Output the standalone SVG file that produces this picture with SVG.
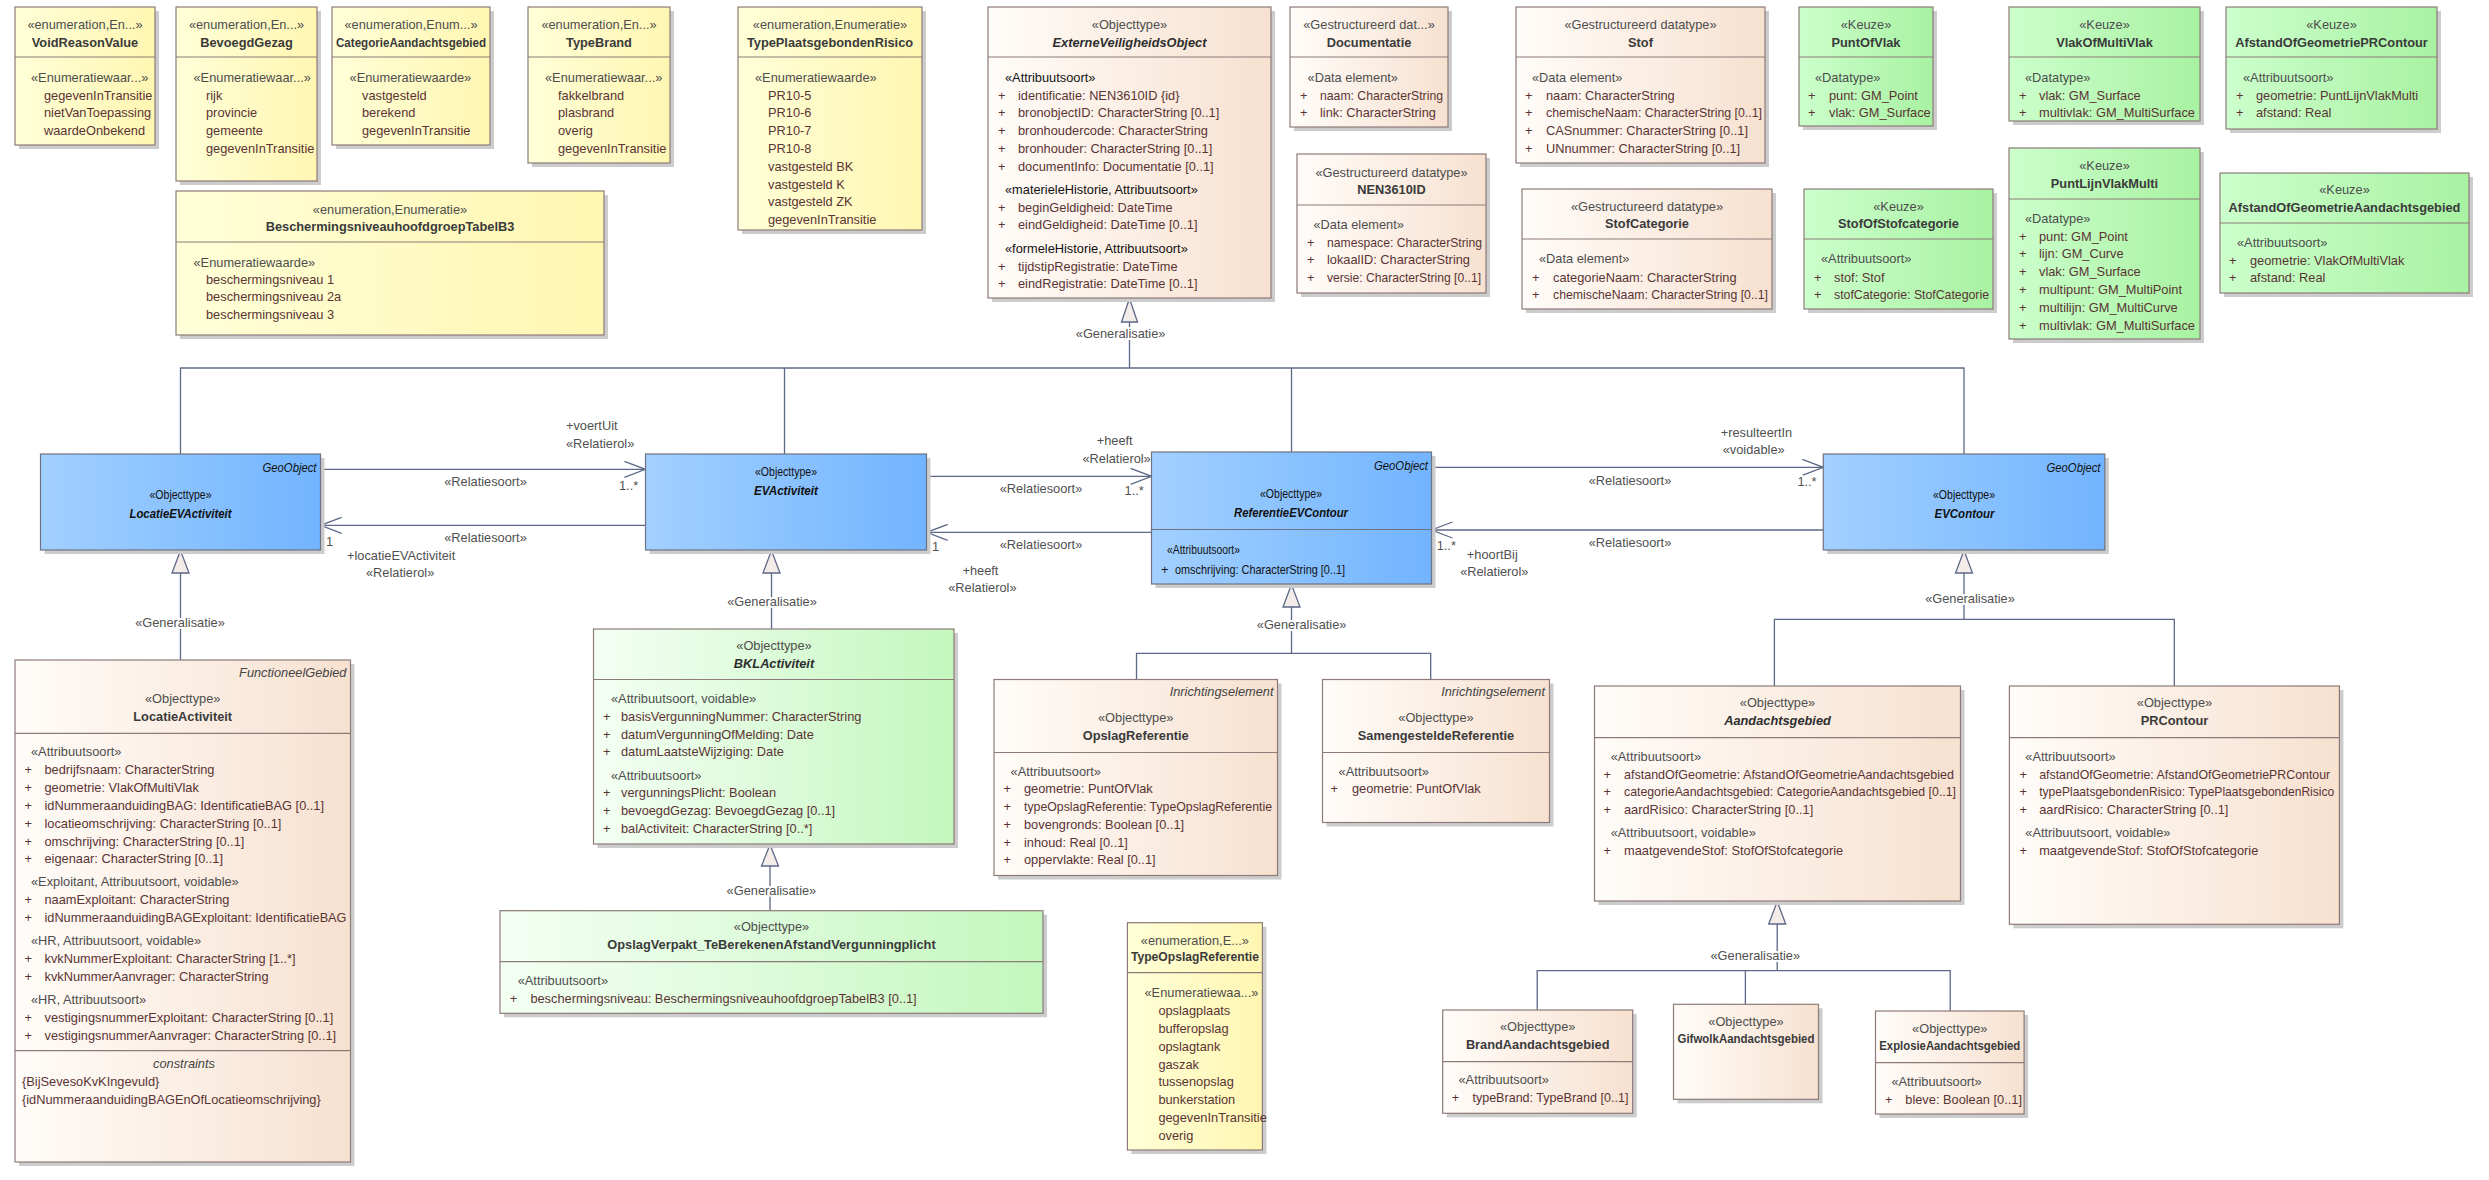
<svg xmlns="http://www.w3.org/2000/svg" width="2489" height="1180" viewBox="0 0 2489 1180">
<defs>
<linearGradient id="gY" x1="0" y1="0" x2="1" y2="0"><stop offset="0" stop-color="#FFFFD8"/><stop offset="1" stop-color="#FFF6B2"/></linearGradient>
<linearGradient id="gP" x1="0" y1="0" x2="1" y2="0"><stop offset="0" stop-color="#FFFCF9"/><stop offset="1" stop-color="#F7E1D0"/></linearGradient>
<linearGradient id="gG" x1="0" y1="0" x2="1" y2="0"><stop offset="0" stop-color="#CCFFCC"/><stop offset="1" stop-color="#A8F2A2"/></linearGradient>
<linearGradient id="gL" x1="0" y1="0" x2="1" y2="0"><stop offset="0" stop-color="#F4FFF4"/><stop offset="1" stop-color="#C4F7BE"/></linearGradient>
<linearGradient id="gB" x1="0" y1="0" x2="1" y2="0"><stop offset="0" stop-color="#A2D0FF"/><stop offset="1" stop-color="#72B4FF"/></linearGradient>
</defs>
<style>
text{font-family:"Liberation Sans",Arial,sans-serif;font-size:12.8px}
.sh{fill:#cccccc}
.bx{stroke:#8c7b78;stroke-width:1.2}
.bb{stroke:#6f7282;stroke-width:1.2}
.dv{stroke:#8c7b78;stroke-width:1.2}
.y{fill:url(#gY)}.p{fill:url(#gP)}.g{fill:url(#gG)}.l{fill:url(#gL)}.b{fill:url(#gB)}
.c{text-anchor:middle}
.st{fill:#4d4d4d}
.nm{fill:#3a3a3a;font-weight:bold}
.ni{fill:#2e2e2e;font-weight:bold;font-style:italic}
.a{fill:#5a3434}
.k{fill:#111111}
.tg{font-style:italic;fill:#444;text-anchor:end}
.ln{stroke:#5d6888;stroke-width:1.3;fill:none}
.tri{fill:#f3ece8;stroke:#5d6888;stroke-width:1.3}
.lb{fill:#505050;stroke:#ffffff;stroke-width:4;paint-order:stroke;stroke-linejoin:round}
</style>
<rect x="0" y="0" width="2489" height="1180" fill="#ffffff"/>

<g id="connectors">
<path class="ln" d="M180.5,454 V368 H1964 V454 M784.5,368 V454 M1129.5,368 V322 M1291.5,368 V452"/>
<polygon class="tri" points="1129.5,298.5 1121.5,322 1137.5,322"/>
<path class="ln" d="M180.5,573 V660"/>
<polygon class="tri" points="180.5,550.5 172,573 189,573"/>
<path class="ln" d="M771.5,573 V629"/>
<polygon class="tri" points="771.5,550.5 763,573 780,573"/>
<path class="ln" d="M770,866 V910.7"/>
<polygon class="tri" points="770,844.5 761.5,866 778.5,866"/>
<path class="ln" d="M1291.5,607 V653.3 M1136.5,679.5 V653.3 H1430.7 V679.5"/>
<polygon class="tri" points="1291.5,584.5 1283,607 1300,607"/>
<path class="ln" d="M1964,573 V619.3 M1774.4,686 V619.3 H2174.3 V686"/>
<polygon class="tri" points="1964,550.5 1955.5,573 1972.5,573"/>
<path class="ln" d="M1777.2,924 V970.7 M1537.2,1010 V970.7 H1950.2 V1011 M1745.4,970.7 V1004.3"/>
<polygon class="tri" points="1777.2,901.5 1768.7,924 1785.7,924"/>
<path class="ln" d="M320.6,469.3 H645.4 M645.4,525.3 H320.6 M926.7,476.3 H1151.6 M1151.6,532.3 H926.7 M1431.5,467.3 H1823.3 M1823.3,530 H1431.5"/>
<polyline class="ln" points="624.4,461.3 645.4,469.3 624.4,477.3"/>
<polyline class="ln" points="341.6,517.3 320.6,525.3 341.6,533.3"/>
<polyline class="ln" points="1130.6,468.3 1151.6,476.3 1130.6,484.3"/>
<polyline class="ln" points="947.7,524.3 926.7,532.3 947.7,540.3"/>
<polyline class="ln" points="1802.3,459.3 1823.3,467.3 1802.3,475.3"/>
<polyline class="ln" points="1452.5,522 1431.5,530 1452.5,538"/>
<text class="lb c" x="1120.6" y="337.5">«Generalisatie»</text>
<text class="lb c" x="180" y="626.8">«Generalisatie»</text>
<text class="lb c" x="772" y="605.8">«Generalisatie»</text>
<text class="lb c" x="771.4" y="895.2">«Generalisatie»</text>
<text class="lb c" x="1301.6" y="629.2">«Generalisatie»</text>
<text class="lb c" x="1970" y="603.2">«Generalisatie»</text>
<text class="lb c" x="1755.3" y="959.8">«Generalisatie»</text>
<text class="lb c" x="485.5" y="486.2">«Relatiesoort»</text>
<text class="lb" x="566" y="430.2">+voertUit</text>
<text class="lb" x="566" y="447.8">«Relatierol»</text>
<text class="lb" x="619" y="489.5">1..*</text>
<text class="lb c" x="485.5" y="541.8">«Relatiesoort»</text>
<text class="lb" x="326" y="545.5">1</text>
<text class="lb" x="347" y="560.2">+locatieEVActiviteit</text>
<text class="lb" x="366" y="577.2">«Relatierol»</text>
<text class="lb c" x="1041" y="493.2">«Relatiesoort»</text>
<text class="lb c" x="1114.7" y="445.2">+heeft</text>
<text class="lb c" x="1116.6" y="462.8">«Relatierol»</text>
<text class="lb" x="1124.6" y="494.5">1..*</text>
<text class="lb c" x="1041" y="548.8">«Relatiesoort»</text>
<text class="lb" x="932" y="551">1</text>
<text class="lb c" x="980.4" y="574.8">+heeft</text>
<text class="lb c" x="982.4" y="592.2">«Relatierol»</text>
<text class="lb c" x="1630" y="485.2">«Relatiesoort»</text>
<text class="lb c" x="1756.5" y="437.2">+resulteertIn</text>
<text class="lb c" x="1753.7" y="453.8">«voidable»</text>
<text class="lb" x="1797.4" y="486">1..*</text>
<text class="lb c" x="1630" y="547.2">«Relatiesoort»</text>
<text class="lb" x="1436.7" y="549.5">1..*</text>
<text class="lb c" x="1492.3" y="558.5">+hoortBij</text>
<text class="lb c" x="1494.3" y="576.2">«Relatierol»</text>
</g>

<g id="VoidReasonValue">
<rect class="sh" x="19" y="11" width="140" height="138"/>
<rect class="bx y" x="15" y="7" width="140" height="138"/>
<line class="dv" x1="15" y1="57" x2="155" y2="57"/>
<text class="st c" x="85" y="28.5">«enumeration,En...»</text>
<text class="nm c" x="85" y="46.5">VoidReasonValue</text>
<text class="st" x="31" y="81.5">«Enumeratiewaar...»</text>
<text class="a" x="44" y="99.5">gegevenInTransitie</text>
<text class="a" x="44" y="117.3">nietVanToepassing</text>
<text class="a" x="44" y="135.1">waardeOnbekend</text>
</g>

<g id="BevoegdGezag">
<rect class="sh" x="180" y="11" width="141" height="174"/>
<rect class="bx y" x="176" y="7" width="141" height="174"/>
<line class="dv" x1="176" y1="57" x2="317" y2="57"/>
<text class="st c" x="246.5" y="28.5">«enumeration,En...»</text>
<text class="nm c" x="246.5" y="46.5">BevoegdGezag</text>
<text class="st" x="193.5" y="81.5">«Enumeratiewaar...»</text>
<text class="a" x="206" y="99.5">rijk</text>
<text class="a" x="206" y="117.3">provincie</text>
<text class="a" x="206" y="135.1">gemeente</text>
<text class="a" x="206" y="152.9">gegevenInTransitie</text>
</g>

<g id="CategorieAandachtsgebied">
<rect class="sh" x="336" y="11" width="158" height="138"/>
<rect class="bx y" x="332" y="7" width="158" height="138"/>
<line class="dv" x1="332" y1="57" x2="490" y2="57"/>
<text class="st c" x="411" y="28.5">«enumeration,Enum...»</text>
<text class="nm c" x="411" y="46.5" textLength="150" lengthAdjust="spacingAndGlyphs">CategorieAandachtsgebied</text>
<text class="st" x="349.6" y="81.5">«Enumeratiewaarde»</text>
<text class="a" x="362" y="99.5">vastgesteld</text>
<text class="a" x="362" y="117.3">berekend</text>
<text class="a" x="362" y="135.1">gegevenInTransitie</text>
</g>

<g id="TypeBrand">
<rect class="sh" x="532" y="11" width="142" height="156"/>
<rect class="bx y" x="528" y="7" width="142" height="156"/>
<line class="dv" x1="528" y1="57" x2="670" y2="57"/>
<text class="st c" x="599" y="28.5">«enumeration,En...»</text>
<text class="nm c" x="599" y="46.5">TypeBrand</text>
<text class="st" x="545" y="81.5">«Enumeratiewaar...»</text>
<text class="a" x="558" y="99.5">fakkelbrand</text>
<text class="a" x="558" y="117.3">plasbrand</text>
<text class="a" x="558" y="135.1">overig</text>
<text class="a" x="558" y="152.9">gegevenInTransitie</text>
</g>

<g id="BeschermingsniveauhoofdgroepTabelB3">
<rect class="sh" x="180" y="195" width="428" height="144"/>
<rect class="bx y" x="176" y="191" width="428" height="144"/>
<line class="dv" x1="176" y1="242" x2="604" y2="242"/>
<text class="st c" x="390" y="213.5">«enumeration,Enumeratie»</text>
<text class="nm c" x="390" y="230.5">BeschermingsniveauhoofdgroepTabelB3</text>
<text class="st" x="193.5" y="266.5">«Enumeratiewaarde»</text>
<text class="a" x="206" y="283.5">beschermingsniveau 1</text>
<text class="a" x="206" y="301.3">beschermingsniveau 2a</text>
<text class="a" x="206" y="319.1">beschermingsniveau 3</text>
</g>

<g id="TypePlaatsgebondenRisico">
<rect class="sh" x="742" y="11" width="184" height="223"/>
<rect class="bx y" x="738" y="7" width="184" height="223"/>
<line class="dv" x1="738" y1="57" x2="922" y2="57"/>
<text class="st c" x="830" y="28.5">«enumeration,Enumeratie»</text>
<text class="nm c" x="830" y="46.5">TypePlaatsgebondenRisico</text>
<text class="st" x="755" y="81.5">«Enumeratiewaarde»</text>
<text class="a" x="768" y="99.5">PR10-5</text>
<text class="a" x="768" y="117.3">PR10-6</text>
<text class="a" x="768" y="135.1">PR10-7</text>
<text class="a" x="768" y="152.9">PR10-8</text>
<text class="a" x="768" y="170.7">vastgesteld BK</text>
<text class="a" x="768" y="188.5">vastgesteld K</text>
<text class="a" x="768" y="206.3">vastgesteld ZK</text>
<text class="a" x="768" y="224.1">gegevenInTransitie</text>
</g>

<g id="ExterneVeiligheidsObject">
<rect class="sh" x="992" y="11" width="283" height="291"/>
<rect class="bx p" x="988" y="7" width="283" height="291"/>
<line class="dv" x1="988" y1="57" x2="1271" y2="57"/>
<text class="st c" x="1129.5" y="28.5">«Objecttype»</text>
<text class="ni c" x="1129.5" y="46.5">ExterneVeiligheidsObject</text>
<text class="k" x="1005" y="81.5">«Attribuutsoort»</text>
<text class="a"><tspan x="998" y="99.5">+</tspan><tspan x="1018">identificatie: NEN3610ID {id}</tspan></text>
<text class="a"><tspan x="998" y="117.3">+</tspan><tspan x="1018">bronobjectID: CharacterString [0..1]</tspan></text>
<text class="a"><tspan x="998" y="135.1">+</tspan><tspan x="1018">bronhoudercode: CharacterString</tspan></text>
<text class="a"><tspan x="998" y="152.9">+</tspan><tspan x="1018">bronhouder: CharacterString [0..1]</tspan></text>
<text class="a"><tspan x="998" y="170.7">+</tspan><tspan x="1018">documentInfo: Documentatie [0..1]</tspan></text>
<text class="k" x="1005" y="193.5">«materieleHistorie, Attribuutsoort»</text>
<text class="a"><tspan x="998" y="211.5">+</tspan><tspan x="1018">beginGeldigheid: DateTime</tspan></text>
<text class="a"><tspan x="998" y="229.3">+</tspan><tspan x="1018">eindGeldigheid: DateTime [0..1]</tspan></text>
<text class="k" x="1005" y="252.5">«formeleHistorie, Attribuutsoort»</text>
<text class="a"><tspan x="998" y="270.5">+</tspan><tspan x="1018">tijdstipRegistratie: DateTime</tspan></text>
<text class="a"><tspan x="998" y="288.3">+</tspan><tspan x="1018">eindRegistratie: DateTime [0..1]</tspan></text>
</g>

<g id="Documentatie">
<rect class="sh" x="1294" y="11" width="158" height="120"/>
<rect class="bx p" x="1290" y="7" width="158" height="120"/>
<line class="dv" x1="1290" y1="57" x2="1448" y2="57"/>
<text class="st c" x="1369" y="28.5">«Gestructureerd dat...»</text>
<text class="nm c" x="1369" y="46.5">Documentatie</text>
<text class="st" x="1307.6" y="81.5">«Data element»</text>
<text class="a"><tspan x="1300" y="99.5">+</tspan><tspan x="1320" textLength="123" lengthAdjust="spacingAndGlyphs">naam: CharacterString</tspan></text>
<text class="a"><tspan x="1300" y="117.3">+</tspan><tspan x="1320">link: CharacterString</tspan></text>
</g>

<g id="NEN3610ID">
<rect class="sh" x="1301" y="158" width="189" height="139"/>
<rect class="bx p" x="1297" y="154" width="189" height="139"/>
<line class="dv" x1="1297" y1="205" x2="1486" y2="205"/>
<text class="st c" x="1391.5" y="176.5">«Gestructureerd datatype»</text>
<text class="nm c" x="1391.5" y="193.5">NEN3610ID</text>
<text class="st" x="1313.5" y="228.5">«Data element»</text>
<text class="a"><tspan x="1307" y="246.5">+</tspan><tspan x="1327" textLength="155" lengthAdjust="spacingAndGlyphs">namespace: CharacterString</tspan></text>
<text class="a"><tspan x="1307" y="264.3">+</tspan><tspan x="1327">lokaalID: CharacterString</tspan></text>
<text class="a"><tspan x="1307" y="282.1">+</tspan><tspan x="1327" textLength="154" lengthAdjust="spacingAndGlyphs">versie: CharacterString [0..1]</tspan></text>
</g>

<g id="Stof">
<rect class="sh" x="1520" y="11" width="249" height="156"/>
<rect class="bx p" x="1516" y="7" width="249" height="156"/>
<line class="dv" x1="1516" y1="57" x2="1765" y2="57"/>
<text class="st c" x="1640.5" y="28.5">«Gestructureerd datatype»</text>
<text class="nm c" x="1640.5" y="46.5">Stof</text>
<text class="st" x="1532" y="81.5">«Data element»</text>
<text class="a"><tspan x="1525" y="99.5">+</tspan><tspan x="1546">naam: CharacterString</tspan></text>
<text class="a"><tspan x="1525" y="117.3">+</tspan><tspan x="1546" textLength="216" lengthAdjust="spacingAndGlyphs">chemischeNaam: CharacterString [0..1]</tspan></text>
<text class="a"><tspan x="1525" y="135.1">+</tspan><tspan x="1546">CASnummer: CharacterString [0..1]</tspan></text>
<text class="a"><tspan x="1525" y="152.9">+</tspan><tspan x="1546">UNnummer: CharacterString [0..1]</tspan></text>
</g>

<g id="StofCategorie">
<rect class="sh" x="1526" y="193" width="250" height="120"/>
<rect class="bx p" x="1522" y="189" width="250" height="120"/>
<line class="dv" x1="1522" y1="239" x2="1772" y2="239"/>
<text class="st c" x="1647" y="210.5">«Gestructureerd datatype»</text>
<text class="nm c" x="1647" y="227.5">StofCategorie</text>
<text class="st" x="1539" y="262.5">«Data element»</text>
<text class="a"><tspan x="1532" y="281.5">+</tspan><tspan x="1553">categorieNaam: CharacterString</tspan></text>
<text class="a"><tspan x="1532" y="299.3">+</tspan><tspan x="1553" textLength="215" lengthAdjust="spacingAndGlyphs">chemischeNaam: CharacterString [0..1]</tspan></text>
</g>

<g id="PuntOfVlak">
<rect class="sh" x="1803" y="11" width="134" height="119"/>
<rect class="bx g" x="1799" y="7" width="134" height="119"/>
<line class="dv" x1="1799" y1="57" x2="1933" y2="57"/>
<text class="st c" x="1866" y="28.5">«Keuze»</text>
<text class="nm c" x="1866" y="46.5">PuntOfVlak</text>
<text class="st" x="1815" y="81.5">«Datatype»</text>
<text class="a"><tspan x="1808" y="99.5">+</tspan><tspan x="1829">punt: GM_Point</tspan></text>
<text class="a"><tspan x="1808" y="117.3">+</tspan><tspan x="1829">vlak: GM_Surface</tspan></text>
</g>

<g id="StofOfStofcategorie">
<rect class="sh" x="1808" y="193" width="189" height="120"/>
<rect class="bx g" x="1804" y="189" width="189" height="120"/>
<line class="dv" x1="1804" y1="239" x2="1993" y2="239"/>
<text class="st c" x="1898.5" y="210.5">«Keuze»</text>
<text class="nm c" x="1898.5" y="227.5">StofOfStofcategorie</text>
<text class="st" x="1821" y="262.5">«Attribuutsoort»</text>
<text class="a"><tspan x="1814" y="281.5">+</tspan><tspan x="1834">stof: Stof</tspan></text>
<text class="a"><tspan x="1814" y="299.3">+</tspan><tspan x="1834" textLength="155" lengthAdjust="spacingAndGlyphs">stofCategorie: StofCategorie</tspan></text>
</g>

<g id="VlakOfMultiVlak">
<rect class="sh" x="2013" y="11" width="191" height="114"/>
<rect class="bx g" x="2009" y="7" width="191" height="114"/>
<line class="dv" x1="2009" y1="57" x2="2200" y2="57"/>
<text class="st c" x="2104.5" y="28.5">«Keuze»</text>
<text class="nm c" x="2104.5" y="46.5">VlakOfMultiVlak</text>
<text class="st" x="2025" y="81.5">«Datatype»</text>
<text class="a"><tspan x="2019" y="99.5">+</tspan><tspan x="2039">vlak: GM_Surface</tspan></text>
<text class="a"><tspan x="2019" y="117.3">+</tspan><tspan x="2039" textLength="156" lengthAdjust="spacingAndGlyphs">multivlak: GM_MultiSurface</tspan></text>
</g>

<g id="AfstandOfGeometriePRContour">
<rect class="sh" x="2230" y="11" width="211" height="122"/>
<rect class="bx g" x="2226" y="7" width="211" height="122"/>
<line class="dv" x1="2226" y1="57" x2="2437" y2="57"/>
<text class="st c" x="2331.5" y="28.5">«Keuze»</text>
<text class="nm c" x="2331.5" y="46.5">AfstandOfGeometriePRContour</text>
<text class="st" x="2243" y="81.5">«Attribuutsoort»</text>
<text class="a"><tspan x="2236" y="99.5">+</tspan><tspan x="2256">geometrie: PuntLijnVlakMulti</tspan></text>
<text class="a"><tspan x="2236" y="117.3">+</tspan><tspan x="2256">afstand: Real</tspan></text>
</g>

<g id="PuntLijnVlakMulti">
<rect class="sh" x="2013" y="152" width="191" height="191"/>
<rect class="bx g" x="2009" y="148" width="191" height="191"/>
<line class="dv" x1="2009" y1="199" x2="2200" y2="199"/>
<text class="st c" x="2104.5" y="169.5">«Keuze»</text>
<text class="nm c" x="2104.5" y="187.5">PuntLijnVlakMulti</text>
<text class="st" x="2025" y="222.5">«Datatype»</text>
<text class="a"><tspan x="2019" y="240.5">+</tspan><tspan x="2039">punt: GM_Point</tspan></text>
<text class="a"><tspan x="2019" y="258.3">+</tspan><tspan x="2039">lijn: GM_Curve</tspan></text>
<text class="a"><tspan x="2019" y="276.1">+</tspan><tspan x="2039">vlak: GM_Surface</tspan></text>
<text class="a"><tspan x="2019" y="293.9">+</tspan><tspan x="2039">multipunt: GM_MultiPoint</tspan></text>
<text class="a"><tspan x="2019" y="311.7">+</tspan><tspan x="2039">multilijn: GM_MultiCurve</tspan></text>
<text class="a"><tspan x="2019" y="329.5">+</tspan><tspan x="2039" textLength="156" lengthAdjust="spacingAndGlyphs">multivlak: GM_MultiSurface</tspan></text>
</g>

<g id="AfstandOfGeometrieAandachtsgebied">
<rect class="sh" x="2224" y="177" width="249" height="120"/>
<rect class="bx g" x="2220" y="173" width="249" height="120"/>
<line class="dv" x1="2220" y1="223" x2="2469" y2="223"/>
<text class="st c" x="2344.5" y="193.5">«Keuze»</text>
<text class="nm c" x="2344.5" y="211.5">AfstandOfGeometrieAandachtsgebied</text>
<text class="st" x="2237" y="246.5">«Attribuutsoort»</text>
<text class="a"><tspan x="2229" y="264.5">+</tspan><tspan x="2250">geometrie: VlakOfMultiVlak</tspan></text>
<text class="a"><tspan x="2229" y="282.3">+</tspan><tspan x="2250">afstand: Real</tspan></text>
</g>

<g id="LocatieEVActiviteit">
<rect class="sh" x="44.5" y="458" width="280" height="96"/>
<rect class="bb b" x="40.5" y="454" width="280" height="96"/>
<text class="tg" x="316.5" y="471.5" textLength="54" lengthAdjust="spacingAndGlyphs" style="fill:#111">GeoObject</text>
<text class="k c" x="180.5" y="498.5" textLength="62" lengthAdjust="spacingAndGlyphs">«Objecttype»</text>
<text class="ni c" x="180.5" y="517.5" textLength="102" lengthAdjust="spacingAndGlyphs" style="fill:#111">LocatieEVActiviteit</text>
</g>

<g id="LocatieActiviteit">
<rect class="sh" x="19" y="664" width="335.5" height="502"/>
<rect class="bx p" x="15" y="660" width="335.5" height="502"/>
<line class="dv" x1="15" y1="733.3" x2="350.5" y2="733.3"/>
<line class="dv" x1="15" y1="1050.7" x2="350.5" y2="1050.7"/>
<text class="tg" x="346.5" y="676.5">FunctioneelGebied</text>
<text class="st c" x="182.7" y="702.5">«Objecttype»</text>
<text class="nm c" x="182.7" y="720.5">LocatieActiviteit</text>
<text class="st" x="31" y="756.2">«Attribuutsoort»</text>
<text class="a"><tspan x="24.6" y="773.8">+</tspan><tspan x="44.5">bedrijfsnaam: CharacterString</tspan></text>
<text class="a"><tspan x="24.6" y="791.8">+</tspan><tspan x="44.5">geometrie: VlakOfMultiVlak</tspan></text>
<text class="a"><tspan x="24.6" y="810.2">+</tspan><tspan x="44.5">idNummeraanduidingBAG: IdentificatieBAG [0..1]</tspan></text>
<text class="a"><tspan x="24.6" y="827.8">+</tspan><tspan x="44.5">locatieomschrijving: CharacterString [0..1]</tspan></text>
<text class="a"><tspan x="24.6" y="845.5">+</tspan><tspan x="44.5">omschrijving: CharacterString [0..1]</tspan></text>
<text class="a"><tspan x="24.6" y="863.2">+</tspan><tspan x="44.5">eigenaar: CharacterString [0..1]</tspan></text>
<text class="st" x="31" y="885.8">«Exploitant, Attribuutsoort, voidable»</text>
<text class="a"><tspan x="24.6" y="903.8">+</tspan><tspan x="44.5">naamExploitant: CharacterString</tspan></text>
<text class="a"><tspan x="24.6" y="921.8">+</tspan><tspan x="44.5" textLength="302" lengthAdjust="spacingAndGlyphs">idNummeraanduidingBAGExploitant: IdentificatieBAG</tspan></text>
<text class="st" x="31" y="945.2">«HR, Attribuutsoort, voidable»</text>
<text class="a"><tspan x="24.6" y="963.2">+</tspan><tspan x="44.5">kvkNummerExploitant: CharacterString [1..*]</tspan></text>
<text class="a"><tspan x="24.6" y="981.2">+</tspan><tspan x="44.5">kvkNummerAanvrager: CharacterString</tspan></text>
<text class="st" x="31" y="1003.8">«HR, Attribuutsoort»</text>
<text class="a"><tspan x="24.6" y="1022.2">+</tspan><tspan x="44.5">vestigingsnummerExploitant: CharacterString [0..1]</tspan></text>
<text class="a"><tspan x="24.6" y="1039.5">+</tspan><tspan x="44.5">vestigingsnummerAanvrager: CharacterString [0..1]</tspan></text>
<text class="c" x="184" y="1068.2" style="font-style:italic;fill:#444">constraints</text>
<text class="a" x="22" y="1085.8">{BijSevesoKvKIngevuld}</text>
<text class="a" x="22" y="1103.8">{idNummeraanduidingBAGEnOfLocatieomschrijving}</text>
</g>

<g id="EVActiviteit">
<rect class="sh" x="649.5" y="458" width="281" height="96"/>
<rect class="bb b" x="645.5" y="454" width="281" height="96"/>
<text class="k c" x="786" y="475.5" textLength="62" lengthAdjust="spacingAndGlyphs">«Objecttype»</text>
<text class="ni c" x="786" y="494.5" textLength="64" lengthAdjust="spacingAndGlyphs" style="fill:#111">EVActiviteit</text>
</g>

<g id="BKLActiviteit">
<rect class="sh" x="597.5" y="633" width="360.5" height="215"/>
<rect class="bx l" x="593.5" y="629" width="360.5" height="215"/>
<line class="dv" x1="593.5" y1="679.5" x2="954" y2="679.5"/>
<text class="st c" x="774" y="650">«Objecttype»</text>
<text class="ni c" x="774" y="668">BKLActiviteit</text>
<text class="st" x="611" y="703">«Attribuutsoort, voidable»</text>
<text class="a"><tspan x="603" y="720.8">+</tspan><tspan x="621">basisVergunningNummer: CharacterString</tspan></text>
<text class="a"><tspan x="603" y="738.8">+</tspan><tspan x="621">datumVergunningOfMelding: Date</tspan></text>
<text class="a"><tspan x="603" y="756.2">+</tspan><tspan x="621">datumLaatsteWijziging: Date</tspan></text>
<text class="st" x="611" y="780.2">«Attribuutsoort»</text>
<text class="a"><tspan x="603" y="797.2">+</tspan><tspan x="621">vergunningsPlicht: Boolean</tspan></text>
<text class="a"><tspan x="603" y="815.2">+</tspan><tspan x="621">bevoegdGezag: BevoegdGezag [0..1]</tspan></text>
<text class="a"><tspan x="603" y="833.2">+</tspan><tspan x="621">balActiviteit: CharacterString [0..*]</tspan></text>
</g>

<g id="ReferentieEVContour">
<rect class="sh" x="1155.5" y="456" width="280" height="132"/>
<rect class="bb b" x="1151.5" y="452" width="280" height="132"/>
<line x1="1151.5" y1="529.5" x2="1431.5" y2="529.5" stroke="#6f7282" stroke-width="1.2"/>
<text class="tg" x="1428" y="470" textLength="54" lengthAdjust="spacingAndGlyphs" style="fill:#111">GeoObject</text>
<text class="k c" x="1291" y="498" textLength="62" lengthAdjust="spacingAndGlyphs">«Objecttype»</text>
<text class="ni c" x="1291" y="517" textLength="114" lengthAdjust="spacingAndGlyphs" style="fill:#111">ReferentieEVContour</text>
<text class="k" x="1167" y="554" textLength="73" lengthAdjust="spacingAndGlyphs">«Attribuutsoort»</text>
<text class="k"><tspan x="1161" y="573.5">+</tspan><tspan x="1175" textLength="170" lengthAdjust="spacingAndGlyphs">omschrijving: CharacterString [0..1]</tspan></text>
</g>

<g id="OpslagReferentie">
<rect class="sh" x="998" y="683.5" width="283.5" height="196"/>
<rect class="bx p" x="994" y="679.5" width="283.5" height="196"/>
<line class="dv" x1="994" y1="752.5" x2="1277.5" y2="752.5"/>
<text class="tg" x="1273.5" y="696">Inrichtingselement</text>
<text class="st c" x="1135.7" y="722">«Objecttype»</text>
<text class="nm c" x="1135.7" y="740">OpslagReferentie</text>
<text class="st" x="1010.6" y="775.5">«Attribuutsoort»</text>
<text class="a"><tspan x="1003.4" y="792.8">+</tspan><tspan x="1024">geometrie: PuntOfVlak</tspan></text>
<text class="a"><tspan x="1003.4" y="810.8">+</tspan><tspan x="1024" textLength="248" lengthAdjust="spacingAndGlyphs">typeOpslagReferentie: TypeOpslagReferentie</tspan></text>
<text class="a"><tspan x="1003.4" y="828.5">+</tspan><tspan x="1024">bovengronds: Boolean [0..1]</tspan></text>
<text class="a"><tspan x="1003.4" y="846.5">+</tspan><tspan x="1024">inhoud: Real [0..1]</tspan></text>
<text class="a"><tspan x="1003.4" y="864.2">+</tspan><tspan x="1024">oppervlakte: Real [0..1]</tspan></text>
</g>

<g id="SamengesteldeReferentie">
<rect class="sh" x="1326.5" y="683.5" width="227" height="143"/>
<rect class="bx p" x="1322.5" y="679.5" width="227" height="143"/>
<line class="dv" x1="1322.5" y1="752.5" x2="1549.5" y2="752.5"/>
<text class="tg" x="1545" y="696">Inrichtingselement</text>
<text class="st c" x="1436" y="722">«Objecttype»</text>
<text class="nm c" x="1436" y="740">SamengesteldeReferentie</text>
<text class="st" x="1338.6" y="775.5">«Attribuutsoort»</text>
<text class="a"><tspan x="1330.6" y="792.8">+</tspan><tspan x="1352">geometrie: PuntOfVlak</tspan></text>
</g>

<g id="EVContour">
<rect class="sh" x="1827.3" y="458" width="281.5" height="96"/>
<rect class="bb b" x="1823.3" y="454" width="281.5" height="96"/>
<text class="tg" x="2100.5" y="471.5" textLength="54" lengthAdjust="spacingAndGlyphs" style="fill:#111">GeoObject</text>
<text class="k c" x="1964" y="498.5" textLength="62" lengthAdjust="spacingAndGlyphs">«Objecttype»</text>
<text class="ni c" x="1964.5" y="517.5" textLength="60" lengthAdjust="spacingAndGlyphs" style="fill:#111">EVContour</text>
</g>

<g id="Aandachtsgebied">
<rect class="sh" x="1598.5" y="690" width="366" height="215"/>
<rect class="bx p" x="1594.5" y="686" width="366" height="215"/>
<line class="dv" x1="1594.5" y1="737.7" x2="1960.5" y2="737.7"/>
<text class="st c" x="1777.5" y="707">«Objecttype»</text>
<text class="ni c" x="1777.5" y="724.5">Aandachtsgebied</text>
<text class="st" x="1610.7" y="761.2">«Attribuutsoort»</text>
<text class="a"><tspan x="1603.6" y="778.5">+</tspan><tspan x="1624" textLength="330" lengthAdjust="spacingAndGlyphs">afstandOfGeometrie: AfstandOfGeometrieAandachtsgebied</tspan></text>
<text class="a"><tspan x="1603.6" y="796.2">+</tspan><tspan x="1624" textLength="332" lengthAdjust="spacingAndGlyphs">categorieAandachtsgebied: CategorieAandachtsgebied [0..1]</tspan></text>
<text class="a"><tspan x="1603.6" y="814.2">+</tspan><tspan x="1624">aardRisico: CharacterString [0..1]</tspan></text>
<text class="st" x="1610.7" y="836.8">«Attribuutsoort, voidable»</text>
<text class="a"><tspan x="1603.6" y="855.2">+</tspan><tspan x="1624">maatgevendeStof: StofOfStofcategorie</tspan></text>
</g>

<g id="PRContour">
<rect class="sh" x="2013.4" y="690" width="330" height="238.3"/>
<rect class="bx p" x="2009.4" y="686" width="330" height="238.3"/>
<line class="dv" x1="2009.4" y1="737.7" x2="2339.4" y2="737.7"/>
<text class="st c" x="2174.5" y="707">«Objecttype»</text>
<text class="nm c" x="2174.5" y="725">PRContour</text>
<text class="st" x="2025.3" y="761.2">«Attribuutsoort»</text>
<text class="a"><tspan x="2019.4" y="778.5">+</tspan><tspan x="2039.2" textLength="291" lengthAdjust="spacingAndGlyphs">afstandOfGeometrie: AfstandOfGeometriePRContour</tspan></text>
<text class="a"><tspan x="2019.4" y="796.2">+</tspan><tspan x="2039.2" textLength="295" lengthAdjust="spacingAndGlyphs">typePlaatsgebondenRisico: TypePlaatsgebondenRisico</tspan></text>
<text class="a"><tspan x="2019.4" y="814.2">+</tspan><tspan x="2039.2">aardRisico: CharacterString [0..1]</tspan></text>
<text class="st" x="2025.3" y="836.8">«Attribuutsoort, voidable»</text>
<text class="a"><tspan x="2019.4" y="855.2">+</tspan><tspan x="2039.2">maatgevendeStof: StofOfStofcategorie</tspan></text>
</g>

<g id="OpslagVerpakt_TeBerekenenAfstandVergunningplicht">
<rect class="sh" x="504" y="914.7" width="543" height="102.6"/>
<rect class="bx l" x="500" y="910.7" width="543" height="102.6"/>
<line class="dv" x1="500" y1="961.7" x2="1043" y2="961.7"/>
<text class="st c" x="771.5" y="931.2">«Objecttype»</text>
<text class="nm c" x="771.5" y="948.8">OpslagVerpakt_TeBerekenenAfstandVergunningplicht</text>
<text class="st" x="517.7" y="985.2">«Attribuutsoort»</text>
<text class="a"><tspan x="509.7" y="1002.8">+</tspan><tspan x="530.4">beschermingsniveau: BeschermingsniveauhoofdgroepTabelB3 [0..1]</tspan></text>
</g>

<g id="TypeOpslagReferentie">
<rect class="sh" x="1131.4" y="926.7" width="135" height="227.3"/>
<rect class="bx y" x="1127.4" y="922.7" width="135" height="227.3"/>
<line class="dv" x1="1127.4" y1="972.7" x2="1262.4" y2="972.7"/>
<text class="st c" x="1194.9" y="944.5">«enumeration,E...»</text>
<text class="nm c" x="1194.9" y="961.2" textLength="128" lengthAdjust="spacingAndGlyphs">TypeOpslagReferentie</text>
<text class="st" x="1144.5" y="997.2">«Enumeratiewaa...»</text>
<text class="a" x="1158.4" y="1015.2">opslagplaats</text>
<text class="a" x="1158.4" y="1033">bufferopslag</text>
<text class="a" x="1158.4" y="1050.8">opslagtank</text>
<text class="a" x="1158.4" y="1068.6">gaszak</text>
<text class="a" x="1158.4" y="1086.4">tussenopslag</text>
<text class="a" x="1158.4" y="1104.2">bunkerstation</text>
<text class="a" x="1158.4" y="1122">gegevenInTransitie</text>
<text class="a" x="1158.4" y="1139.8">overig</text>
</g>

<g id="BrandAandachtsgebied">
<rect class="sh" x="1446.7" y="1014" width="190" height="103.3"/>
<rect class="bx p" x="1442.7" y="1010" width="190" height="103.3"/>
<line class="dv" x1="1442.7" y1="1061.7" x2="1632.7" y2="1061.7"/>
<text class="st c" x="1537.7" y="1031.2">«Objecttype»</text>
<text class="nm c" x="1537.7" y="1048.8">BrandAandachtsgebied</text>
<text class="st" x="1458.5" y="1083.8">«Attribuutsoort»</text>
<text class="a"><tspan x="1451.8" y="1102.2">+</tspan><tspan x="1472.4" textLength="156" lengthAdjust="spacingAndGlyphs">typeBrand: TypeBrand [0..1]</tspan></text>
</g>

<g id="GifwolkAandachtsgebied">
<rect class="sh" x="1677.5" y="1008.3" width="145" height="95"/>
<rect class="bx p" x="1673.5" y="1004.3" width="145" height="95"/>
<text class="st c" x="1746" y="1025.8">«Objecttype»</text>
<text class="nm c" x="1746" y="1043.2" textLength="137" lengthAdjust="spacingAndGlyphs">GifwolkAandachtsgebied</text>
</g>

<g id="ExplosieAandachtsgebied">
<rect class="sh" x="1879.5" y="1015" width="148.6" height="103"/>
<rect class="bx p" x="1875.5" y="1011" width="148.6" height="103"/>
<line class="dv" x1="1875.5" y1="1062.7" x2="2024.1" y2="1062.7"/>
<text class="st c" x="1949.8" y="1032.8">«Objecttype»</text>
<text class="nm c" x="1949.8" y="1050.2" textLength="141" lengthAdjust="spacingAndGlyphs">ExplosieAandachtsgebied</text>
<text class="st" x="1891.4" y="1085.8">«Attribuutsoort»</text>
<text class="a"><tspan x="1885" y="1103.8">+</tspan><tspan x="1905.3">bleve: Boolean [0..1]</tspan></text>
</g>
</svg>
